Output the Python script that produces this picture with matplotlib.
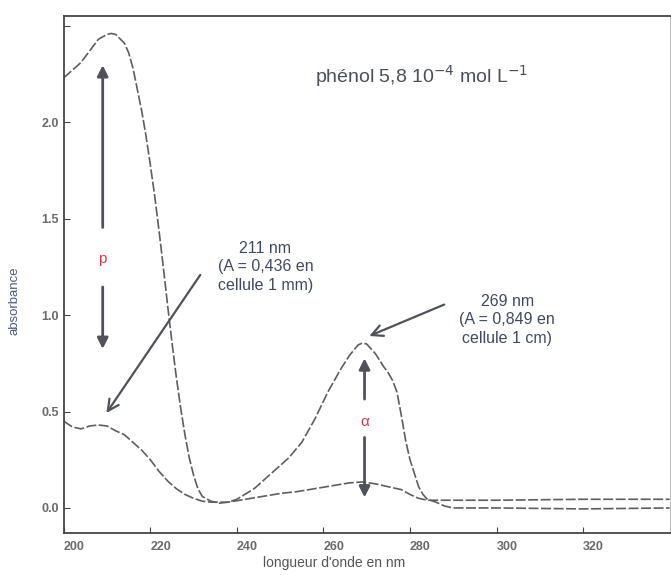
import matplotlib.pyplot as plt

plt.rcParams['font.family'] = ['Liberation Sans', 'DejaVu Sans']

# spectre en cellule 1 cm (grande courbe)
wl_1cm = [200, 202, 204, 206, 208, 210, 211, 212, 214, 215, 216, 217, 218, 219,
          220, 221, 222, 223, 224, 225, 226, 227, 228, 229, 230, 231, 232, 234,
          236, 238, 240, 244, 248, 252, 255, 258, 261, 264, 266, 268, 269, 270,
          272, 274, 275, 276, 277, 278, 279, 280, 281, 282, 283, 284, 286, 288,
          290, 300, 320, 340]
abs_1cm = [2.23, 2.27, 2.31, 2.37, 2.43, 2.455, 2.46, 2.455, 2.41, 2.36, 2.28,
           2.17, 2.06, 1.93, 1.78, 1.62, 1.44, 1.25, 1.05, 0.86, 0.68, 0.52,
           0.38, 0.26, 0.17, 0.10, 0.06, 0.035, 0.025, 0.03, 0.045, 0.10, 0.18,
           0.26, 0.34, 0.46, 0.60, 0.72, 0.79, 0.845, 0.855, 0.85, 0.80, 0.73,
           0.70, 0.66, 0.60, 0.48, 0.35, 0.25, 0.18, 0.11, 0.07, 0.045, 0.03,
           0.01, 0.0, 0.0, -0.005, 0.0]

# spectre en cellule 1 mm (petite courbe)
wl_1mm = [200, 202, 204, 206, 208, 210, 212, 214, 216, 218, 220, 222, 224, 226,
          228, 230, 232, 234, 236, 238, 242, 246, 250, 254, 258, 262, 266, 269,
          272, 276, 278, 280, 282, 284, 290, 300, 320, 340]
abs_1mm = [0.45, 0.42, 0.41, 0.425, 0.43, 0.425, 0.40, 0.38, 0.34, 0.30, 0.25,
           0.19, 0.14, 0.10, 0.07, 0.05, 0.035, 0.03, 0.03, 0.03, 0.045, 0.06,
           0.075, 0.085, 0.10, 0.115, 0.13, 0.135, 0.125, 0.105, 0.095, 0.07,
           0.05, 0.04, 0.04, 0.04, 0.045, 0.045]

x_ticks = [200, 220, 240, 260, 280, 300, 320]
y_ticks = [0.0, 0.5, 1.0, 1.5, 2.0, 2.5]
y_labels = ['0.0', '0.5', '1.0', '1.5', '2.0', '']

curve_col = '#5e5e5e'
arrow_col = '#4f525a'
text_col = '#3f4a62'
red = '#d9384e'

fig = plt.figure(figsize=(6.71, 5.75), dpi=100)
ax = fig.add_axes([0.095, 0.073, 0.903, 0.899])

ax.plot(wl_1cm, abs_1cm, color=curve_col, lw=1.2, ls=(0, (6, 1.5)))
ax.plot(wl_1mm, abs_1mm, color=curve_col, lw=1.2, ls=(0, (6, 1.5)))

ax.set_xlim(200, 340)
ax.set_ylim(-0.13, 2.55)

# double flèche p
ax.annotate('', xy=(209, 2.31), xytext=(209, 1.44),
            arrowprops=dict(arrowstyle='-|>', color=arrow_col, lw=2, mutation_scale=16))
ax.annotate('', xy=(209, 0.81), xytext=(209, 1.16),
            arrowprops=dict(arrowstyle='-|>', color=arrow_col, lw=2, mutation_scale=16))
ax.text(209, 1.29, 'p', color=red, fontsize=11, ha='center', va='center')

# double flèche alpha
ax.annotate('', xy=(269.5, 0.79), xytext=(269.5, 0.55),
            arrowprops=dict(arrowstyle='-|>', color=arrow_col, lw=2, mutation_scale=16))
ax.annotate('', xy=(269.5, 0.04), xytext=(269.5, 0.38),
            arrowprops=dict(arrowstyle='-|>', color=arrow_col, lw=2, mutation_scale=16))
ax.text(269.5, 0.445, 'α', color=red, fontsize=11, ha='center', va='center')

# annotations
ax.annotate('', xy=(209.5, 0.48), xytext=(231.9, 1.22),
            arrowprops=dict(arrowstyle='->', color=arrow_col, lw=1.6, mutation_scale=20))
ax.text(246.6, 1.25, '211 nm\n(A = 0,436 en\ncellule 1 mm)', color=text_col,
        fontsize=11.5, ha='center', va='center', linespacing=1.3)

ax.annotate('', xy=(270, 0.886), xytext=(288.5, 1.06),
            arrowprops=dict(arrowstyle='->', color=arrow_col, lw=1.6, mutation_scale=20))
ax.text(302.5, 0.975, '269 nm\n(A = 0,849 en\ncellule 1 cm)', color=text_col,
        fontsize=11.5, ha='center', va='center', linespacing=1.3)

ax.text(282.7, 2.24, 'phénol 5,8 10$^{-4}$ mol L$^{-1}$', color='#4a4f5c',
        fontsize=14, ha='center', va='center')

ax.set_xticks(x_ticks)
ax.set_xticklabels([str(v) for v in x_ticks], ha='left')
ax.set_yticks(y_ticks)
ax.set_yticklabels(y_labels)
ax.tick_params(direction='in', length=4, colors='#444444', labelsize=9,
               labelcolor='#6a6a6a')
ax.tick_params(axis='x', pad=6)
for lab in ax.get_xticklabels() + ax.get_yticklabels():
    lab.set_fontweight('bold')

ax.set_xlabel("longueur d'onde en nm", fontsize=10, color='#555555')
ax.set_ylabel('absorbance', fontsize=9.5, color='#4a5a85')
ax.xaxis.set_label_coords(0.447, -0.045)
ax.yaxis.set_label_coords(-0.072, 0.45)

for side in ['left', 'bottom', 'top']:
    ax.spines[side].set_color('#444444')
    ax.spines[side].set_linewidth(1.3)
ax.spines['right'].set_color('#bbbbbb')
ax.spines['right'].set_linewidth(0.8)

fig.savefig('out.png', dpi=100)
